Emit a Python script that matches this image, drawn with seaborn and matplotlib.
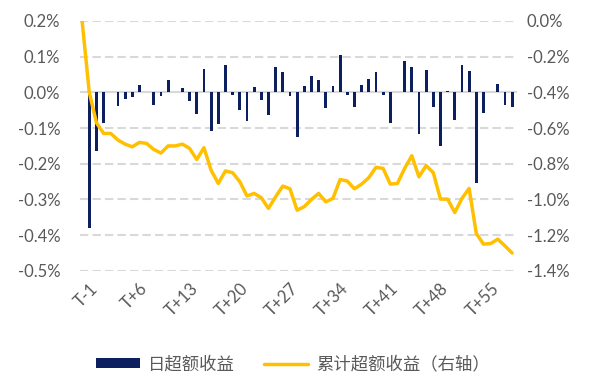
import numpy as np
import seaborn as sns
import matplotlib.pyplot as plt
from matplotlib.patches import Patch
from matplotlib.lines import Line2D

# daily excess return (%), T-1 .. T+58
bar_days = list(range(-1, 59))
daily_excess = [-0.38, -0.165, -0.086, 0.0, -0.039, -0.019, -0.013, 0.021, 0.0, -0.036,
                -0.011, 0.036, 0.0, 0.011, -0.025, -0.061, 0.065, -0.109, -0.089, 0.076,
                -0.008, -0.049, -0.079, 0.014, -0.021, -0.064, 0.070, 0.057, -0.009, -0.125,
                0.017, 0.045, 0.035, -0.044, 0.019, 0.104, -0.008, -0.041, 0.021, 0.037,
                0.057, -0.008, -0.086, 0.0, 0.087, 0.070, -0.116, 0.063, -0.041, -0.149,
                0.003, -0.077, 0.076, 0.059, -0.254, -0.058, 0.0, 0.023, -0.035, -0.041]

# cumulative excess return (%), starts from a zero base one step before T-1
line_days = list(range(-2, 59))
cum_excess = [0.0, -0.40, -0.57, -0.63, -0.63, -0.667, -0.69, -0.705, -0.68, -0.686,
              -0.72, -0.74, -0.70, -0.70, -0.69, -0.714, -0.776, -0.71, -0.836, -0.91,
              -0.84, -0.85, -0.90, -0.98, -0.966, -0.99, -1.05, -0.985, -0.925, -0.94,
              -1.06, -1.04, -1.0, -0.966, -1.013, -0.994, -0.888, -0.897, -0.94, -0.914,
              -0.878, -0.82, -0.826, -0.914, -0.91, -0.826, -0.755, -0.873, -0.81, -0.85,
              -0.998, -0.998, -1.073, -0.994, -0.938, -1.19, -1.25, -1.247, -1.222, -1.26,
              -1.30]

tick_days = [-1, 6, 13, 20, 27, 34, 41, 48, 55]
tick_labels = ['T-1', 'T+6', 'T+13', 'T+20', 'T+27', 'T+34', 'T+41', 'T+48', 'T+55']

left_ticks = [0.2, 0.1, 0.0, -0.1, -0.2, -0.3, -0.4, -0.5]
right_ticks = [0.0, -0.2, -0.4, -0.6, -0.8, -1.0, -1.2, -1.4]

bar_color = '#0c1f5e'
line_color = '#ffc000'
grid_color = '#d9d9d9'
text_color = '#595959'

sns.set_style('white')
plt.rcParams['font.family'] = ['Lato', 'Noto Sans CJK SC', 'DejaVu Sans']

fig, ax = plt.subplots(figsize=(5.94, 3.81), dpi=100)
fig.subplots_adjust(left=0.134, right=0.870, top=0.945, bottom=0.289)

sns.barplot(x=bar_days, y=daily_excess, native_scale=True, width=0.4,
            color=bar_color, saturation=1, errorbar=None, ax=ax, zorder=3,
            linewidth=0)

ax2 = ax.twinx()
sns.lineplot(x=line_days, y=cum_excess, color=line_color, linewidth=2.5, ax=ax2)

# left axis
ax.set_ylim(-0.5, 0.2)
ax.set_yticks(left_ticks)
ax.set_yticklabels([f'{v:.1f}%' for v in left_ticks])
ax.yaxis.grid(True, color=grid_color, linestyle=(0, (4, 2)), linewidth=1.5)
ax.axhline(0, color=grid_color, linewidth=1.5, zorder=2)
ax.tick_params(axis='y', length=0, pad=14, labelsize=12, labelcolor=text_color)

# right axis
ax2.set_ylim(-1.4, 0.0)
ax2.set_yticks(right_ticks)
ax2.set_yticklabels([f'{v:.1f}%' for v in right_ticks])
ax2.tick_params(axis='y', length=0, pad=7, labelsize=12, labelcolor=text_color)

ax.set_xlim(-2.35, 58.65)
ax.set_xticks(tick_days)
ax.set_xticklabels(tick_labels, rotation=45, ha='right', rotation_mode='anchor')
ax.tick_params(axis='x', length=0, pad=7, labelsize=12, labelcolor=text_color)
ax.set_xlabel('')
ax.set_ylabel('')
ax2.set_ylabel('')

for a in (ax, ax2):
    for s in a.spines.values():
        s.set_visible(False)

handles = [Patch(facecolor=bar_color, edgecolor='none'),
           Line2D([], [], color=line_color, linewidth=2.5)]
fig.legend(handles, ['日超额收益', '累计超额收益（右轴）'], loc='center',
           bbox_to_anchor=(0.493, 0.045), ncol=2, frameon=False,
           handlelength=2.55, handleheight=0.5, handletextpad=0.45,
           columnspacing=1.7, prop={'size': 12.5}, labelcolor=text_color)

fig.savefig('out.png', dpi=100)
